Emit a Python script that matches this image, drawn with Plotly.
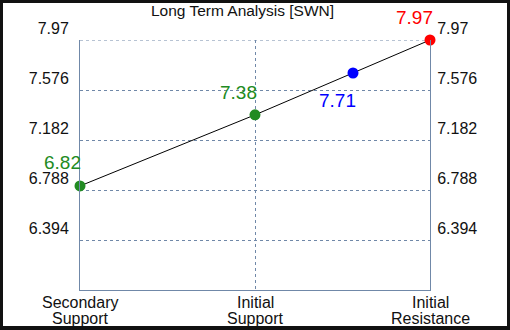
import plotly.graph_objects as go

categories = ["Secondary<br>Support", "Initial<br>Support", "Initial<br>Resistance"]
line_x = [0, 1, 2]
line_y = [6.82, 7.38, 7.97]
point_x = [0, 1, 1.56, 2]
point_y = [6.82, 7.38, 7.71, 7.97]
point_labels = ["6.82", "7.38", "7.71", "7.97"]
point_colors = ["#228B22", "#228B22", "#0000FF", "#FF0000"]
label_shift_x = [-18, -17, -16, -16]
label_shift_y = [23, 22, -28, 23]
tick_vals = [6.394, 6.788, 7.182, 7.576, 7.97]
tick_text = ["6.394", "6.788", "7.182", "7.576", "7.97"]
y_range = [6.0, 7.97]

grid_color = "#7088a8"
font_family = "Liberation Sans, Arial, sans-serif"
W, H = 504, 323

fig = go.Figure()
fig.add_trace(go.Scatter(x=line_x, y=line_y, mode="lines",
                         line=dict(color="black", width=1), hoverinfo="skip", showlegend=False))
fig.add_trace(go.Scatter(x=point_x, y=point_y, mode="markers",
                         marker=dict(color=point_colors, size=11), showlegend=False,
                         cliponaxis=False))
# dummy trace for right axis
fig.add_trace(go.Scatter(x=[0], y=[y_range[0]], yaxis="y2", mode="markers",
                         marker=dict(opacity=0), hoverinfo="skip", showlegend=False))

for x, y, t, c, dx, dy in zip(point_x, point_y, point_labels, point_colors, label_shift_x, label_shift_y):
    fig.add_annotation(x=x, y=y, text=t, showarrow=False, xshift=dx, yshift=dy,
                       font=dict(color=c, size=19, family=font_family))

# category labels, one annotation per text line for tight line spacing
for x, cat in zip(line_x, categories):
    for i, part in enumerate(cat.split("<br>")):
        fig.add_annotation(x=x, xref="x", y=0, yref="paper", text=part, showarrow=False,
                           yanchor="middle", yshift=-(12 + 16 * i),
                           font=dict(size=16, color="#111", family=font_family))

yaxis_common = dict(range=y_range, tickvals=tick_vals, ticktext=tick_text,
                    showgrid=True, gridcolor=grid_color, griddash="dot", gridwidth=1,
                    showline=True, linecolor=grid_color, linewidth=1, automargin=False,
                    zeroline=False, ticks="", ticklabelshift=-12, ticklabelstandoff=7,
                    tickfont=dict(size=16, color="#111", family=font_family))
yaxis2 = dict(yaxis_common)
yaxis2.update(overlaying="y", side="right", showgrid=False, ticklabelstandoff=3)

fig.update_layout(
    width=W, height=H,
    margin=dict(l=77, r=77, t=37, b=36),
    paper_bgcolor="white", plot_bgcolor="white",
    title=dict(text="Long Term Analysis [SWN]", x=239.5 / W, xanchor="center",
               y=1 - 8 / H, yanchor="middle", yref="container",
               font=dict(size=15.5, color="#111", family=font_family)),
    xaxis=dict(range=[0, 2], tickvals=line_x, showticklabels=False, automargin=False,
               showgrid=True, gridcolor=grid_color, griddash="dot", gridwidth=1,
               showline=True, linecolor=grid_color, linewidth=1, zeroline=False, ticks=""),
    yaxis=yaxis_common,
    yaxis2=yaxis2,
    shapes=[
        dict(type="line", xref="x", yref="y", x0=0, x1=2, y0=y_range[1], y1=y_range[1],
             line=dict(color=grid_color, width=1, dash="dot"), layer="below"),
    ],
)

fig.write_html("out.html", config={"displayModeBar": False},
               post_script="document.body.style.margin='3px 3px 4px 3px';"
                           "document.body.style.background='#111';"
                           "document.body.style.overflow='hidden';")
